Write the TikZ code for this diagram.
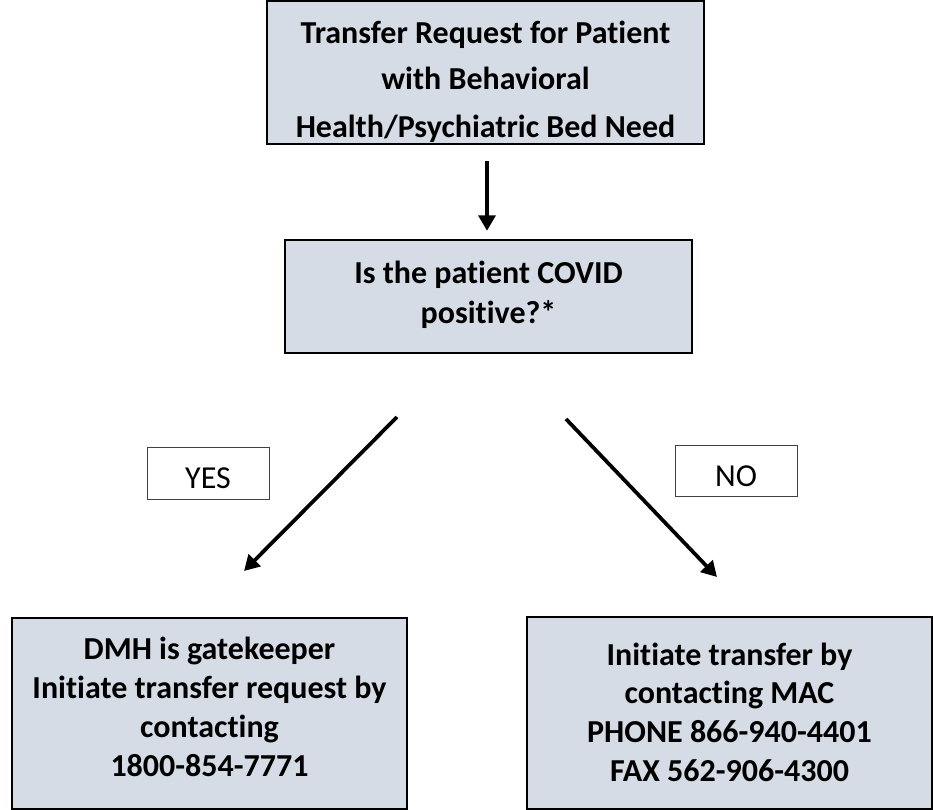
\documentclass[tikz,border=0pt]{standalone}
\usepackage{fontspec}
\setmainfont{Carlito}[Ligatures=NoCommon]
\usetikzlibrary{arrows.meta}
\definecolor{boxfill}{HTML}{D6DCE5}
\definecolor{tagline}{HTML}{404040}
\newcommand\boxlines[3]{\parbox[t]{#1}{\centering\fontsize{24}{#2}\selectfont #3}}
\tikzset{
  flowbox/.style={draw=black, line width=1.8pt, fill=boxfill, inner sep=0pt,
    text height=0pt, font=\bfseries},
  tagbox/.style={draw=tagline, line width=0.75pt, inner sep=0pt,
    font=\fontsize{24}{29}\selectfont, text height=23pt, text depth=0pt,
    minimum width=91.5pt, minimum height=38.5pt},
  arr/.style={line width=2.8pt, -{Triangle[width=12.5pt,length=11.5pt]}},
}
\begin{document}
\begin{tikzpicture}[x=0.75pt, y=-0.75pt]
  \useasboundingbox (0,0) rectangle (933,810);
  \clip (0,0) rectangle (933,810);

  \node (top) [flowbox, minimum width=327.75pt, minimum height=107.25pt, text depth=44.25pt]
    at (485.5,72.5) {\boxlines{320pt}{35.25pt}{Transfer Request for Patient\\with Behavioral\\Health/Psychiatric Bed Need}};

  \node (mid) [flowbox, minimum width=305.25pt, minimum height=84.75pt, text depth=20.25pt]
    at (488.5,296.5) {\boxlines{300pt}{30pt}{Is the patient COVID\\positive?*}};

  \node (dmh) [flowbox, minimum width=296.25pt, minimum height=143.25pt, text depth=81.75pt]
    at (209.5,713.5) {\boxlines{290pt}{29.25pt}{DMH is gatekeeper\\Initiate transfer request by\\contacting\\1800-854-7771}};

  \node (mac) [flowbox, minimum width=303.75pt, minimum height=144pt, text depth=72pt]
    at (729.5,713) {\boxlines{300pt}{29pt}{Initiate transfer by\\contacting MAC\\PHONE 866-940-4401\\FAX 562-906-4300}};

  \node (yes) [tagbox] at (208,473.5) {YES};
  \node (no)  [tagbox] at (736,471) {NO};

  \coordinate (ystart) at (397,417);
  \coordinate (yend)   at (244,571);
  \coordinate (nstart) at (566,419);
  \coordinate (nend)   at (717,577);

  \draw[arr, shorten <=12pt, shorten >=6pt] ([xshift=1.125pt]top.south) -- ([xshift=-1.125pt]mid.north);
  \draw[arr] (ystart) -- (yend);
  \draw[arr] (nstart) -- (nend);
\end{tikzpicture}
\end{document}
